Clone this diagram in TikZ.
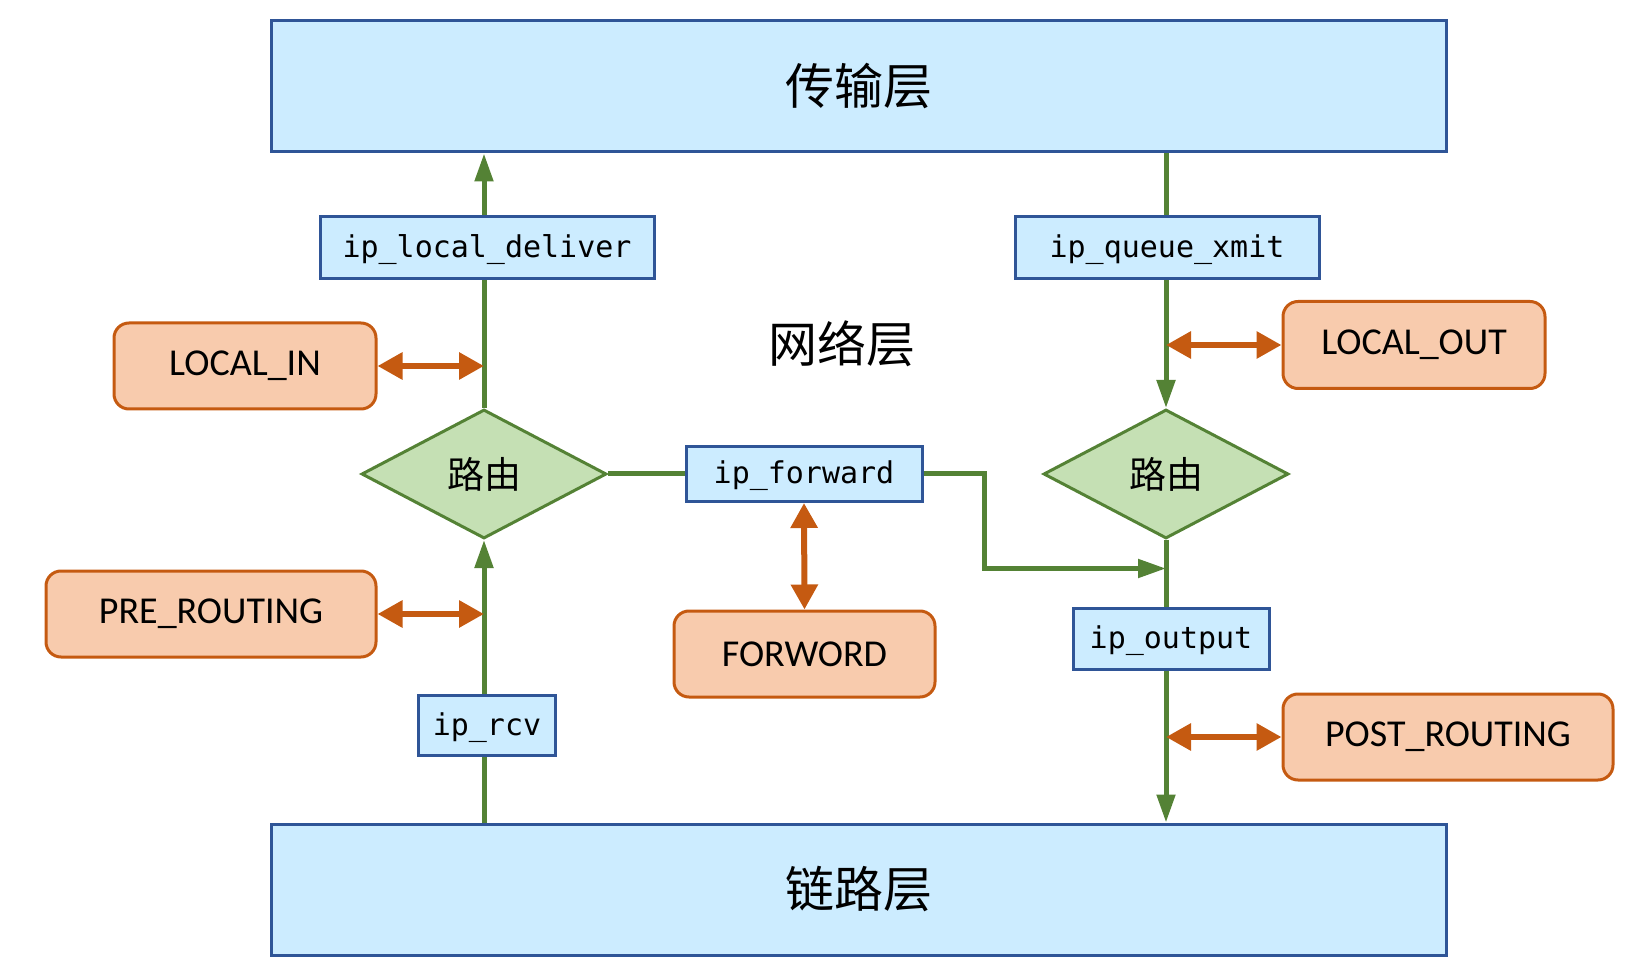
\documentclass[tikz,border=0pt]{standalone}
\usepackage{fontspec}
\usetikzlibrary{shapes.geometric,arrows.meta}
\newfontfamily\cjk{Noto Sans CJK SC}
\newfontfamily\monof{DejaVu Sans Mono}
\newfontfamily\carl{Carlito}
\definecolor{lblue}{HTML}{CCECFF}
\definecolor{dblue}{HTML}{2F5597}
\definecolor{lgreen}{HTML}{C5E0B4}
\definecolor{dgreen}{HTML}{548235}
\definecolor{lorange}{HTML}{F8CBAD}
\definecolor{dorange}{HTML}{C55A11}
\tikzset{
  layer/.style={draw=dblue, fill=lblue, line width=3pt, minimum width=1175pt, minimum height=131pt, inner sep=0pt, font=\cjk\fontsize{49}{52}\selectfont},
  func/.style={draw=dblue, fill=lblue, line width=3pt, inner sep=0pt, text height=24pt, text depth=4pt, font=\monof\fontsize{30}{32}\selectfont},
  hook/.style={draw=dorange, fill=lorange, line width=3pt, rounded corners=15pt, inner sep=0pt, font=\carl\fontsize{38}{40}\selectfont},
  route/.style={diamond, draw=dgreen, fill=lgreen, line width=3pt, inner sep=0pt, minimum width=245pt, minimum height=129pt, font=\cjk\fontsize{37}{40}\selectfont},
  gline/.style={draw=dgreen, line width=5pt},
  garrow/.style={gline, -{Triangle[length=28pt,width=18pt]}},
  oarrow/.style={draw=dorange, line width=6pt, {Triangle[length=25pt,width=26pt]}-{Triangle[length=25pt,width=26pt]}},
}
\begin{document}
\begin{tikzpicture}[x=1pt,y=-1pt]
\useasboundingbox (0,0) rectangle (1650,973);
\node[layer] (top) at (858.5,86.5) {传输层};
\node[layer] (bot) at (858.5,889.5) {链路层};
\node[font=\cjk\fontsize{49}{52}\selectfont] (net) at (842,344) {网络层};

\node[route] (d1) at (484,474) {路由};
\node[route] (d2) at (1166,474) {路由};

\node[func, minimum width=334pt, minimum height=62pt] (ild) at (487,248) {ip\_local\_deliver};
\node[func, minimum width=137pt, minimum height=60pt] (rcv) at (487,725) {ip\_rcv};
\node[func, minimum width=236pt, minimum height=55pt] (fwd) at (804,474) {ip\_forward};
\node[func, minimum width=304pt, minimum height=62pt] (qx) at (1167,248) {ip\_queue\_xmit};
\node[func, minimum width=196pt, minimum height=61pt] (out) at (1171,638.5) {ip\_output};

\node[hook, minimum width=262pt, minimum height=86pt] (lin) at (245,366) {LOCAL\_IN};
\node[hook, minimum width=330pt, minimum height=86pt] (pre) at (211,614) {PRE\_ROUTING};
\node[hook, minimum width=261pt, minimum height=86pt] (fw) at (804.5,654) {FORWORD};
\node[hook, minimum width=262pt, minimum height=87pt] (lout) at (1414,345) {LOCAL\_OUT};
\node[hook, minimum width=330pt, minimum height=86pt] (post) at (1448,737) {POST\_ROUTING};

\coordinate (j) at (1166,568.5);

% left column
\draw[gline] (d1.north) -- (d1.north |- ild.south);
\draw[garrow] (d1.north |- ild.north) -- (d1.north |- top.south);
\draw[gline] (d1.south |- bot.north) -- (d1.south |- rcv.south);
\draw[garrow] (d1.south |- rcv.north) -- (d1.south);
\draw[oarrow] (lin.east) -- (lin.east -| d1.north);
\draw[oarrow] (pre.east) -- (pre.east -| d1.south);

% forward
\draw[gline] (d1.east) -- (fwd.west);
\draw[garrow] (fwd.east) -- ++(61,0) |- (j);
\draw[oarrow] (fwd.south) -- (fw.north);

% right column
\draw[gline] (d2.north |- top.south) -- (d2.north |- qx.north);
\draw[garrow] (d2.north |- qx.south) -- (d2.north);
\draw[gline] (d2.south) -- (d2.south |- out.north);
\draw[garrow] (d2.south |- out.south) -- (d2.south |- bot.north);
\draw[oarrow] (lout.west) -- (lout.west -| d2.north);
\draw[oarrow] (post.west) -- (post.west -| d2.south);
\end{tikzpicture}
\end{document}
